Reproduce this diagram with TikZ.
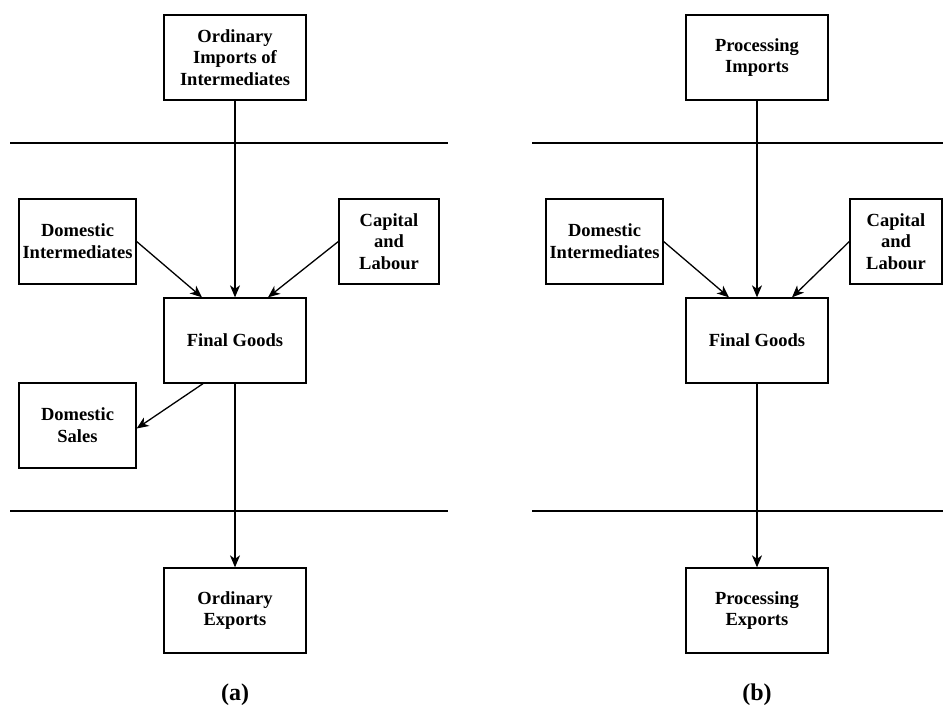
\documentclass[tikz,border=0pt]{standalone}
\usepackage{fontspec}
\setmainfont{Liberation Serif}
\usetikzlibrary{arrows.meta}
\begin{document}
\begin{tikzpicture}[x=1pt,y=-1pt,
  box/.style={draw,line width=1.3pt,minimum height=85pt,inner sep=0pt,align=center,font=\fontsize{18.5}{21.8}\selectfont\bfseries},
  lbl/.style={inner sep=0pt,font=\fontsize{24}{26}\selectfont\bfseries},
  arr/.style={line width=1.3pt,-{Stealth[length=12pt,width=10pt,inset=3.5pt]}},
  sepline/.style={line width=1.3pt}]
\useasboundingbox (0,0) rectangle (943,713);

% ---------- panel (a) ----------
\node[box,minimum width=142pt] (oi) at (235,57.5) {Ordinary\\Imports of\\Intermediates};
\node[box,minimum width=117pt] (di) at (77.5,241.5) {Domestic\\Intermediates};
\node[box,minimum width=100pt] (cl) at (389,241.5) {Capital\\and\\Labour};
\node[box,minimum width=142pt] (fg) at (235,340.5) {Final Goods};
\node[box,minimum width=117pt] (ds) at (77.5,425.5) {Domestic\\Sales};
\node[box,minimum width=142pt] (oe) at (235,610.5) {Ordinary\\Exports};
\node[lbl] (la) at (235,695) {(a)};

\coordinate (a1l) at (10,143); \coordinate (a1r) at (448,143);
\coordinate (a2l) at (10,511); \coordinate (a2r) at (448,511);
\draw[sepline] (a1l) -- (a1r);
\draw[sepline] (a2l) -- (a2r);

\draw[arr] (oi.south) -- (fg.north);
\draw[arr] (di.east) -- ([xshift=-33pt]fg.north);
\draw[arr] (cl.west) -- ([xshift=33pt]fg.north);
\draw[arr] ([xshift=-32pt]fg.south) -- ([yshift=-3pt]ds.east);
\draw[arr] (fg.south) -- (oe.north);

% ---------- panel (b) ----------
\node[box,minimum width=142pt] (pi) at (757,57.5) {Processing\\Imports};
\node[box,minimum width=117pt] (di2) at (604.5,241.5) {Domestic\\Intermediates};
\node[box,minimum width=92pt] (cl2) at (896,241.5) {Capital\\and\\Labour};
\node[box,minimum width=142pt] (fg2) at (757,340.5) {Final Goods};
\node[box,minimum width=142pt] (pe) at (757,610.5) {Processing\\Exports};
\node[lbl] (lb) at (757,695) {(b)};

\coordinate (b1l) at (532,143); \coordinate (b1r) at (943,143);
\coordinate (b2l) at (532,511); \coordinate (b2r) at (943,511);
\draw[sepline] (b1l) -- (b1r);
\draw[sepline] (b2l) -- (b2r);

\draw[arr] (pi.south) -- (fg2.north);
\draw[arr] (di2.east) -- ([xshift=-28pt]fg2.north);
\draw[arr] (cl2.west) -- ([xshift=35pt]fg2.north);
\draw[arr] (fg2.south) -- (pe.north);
\end{tikzpicture}
\end{document}
